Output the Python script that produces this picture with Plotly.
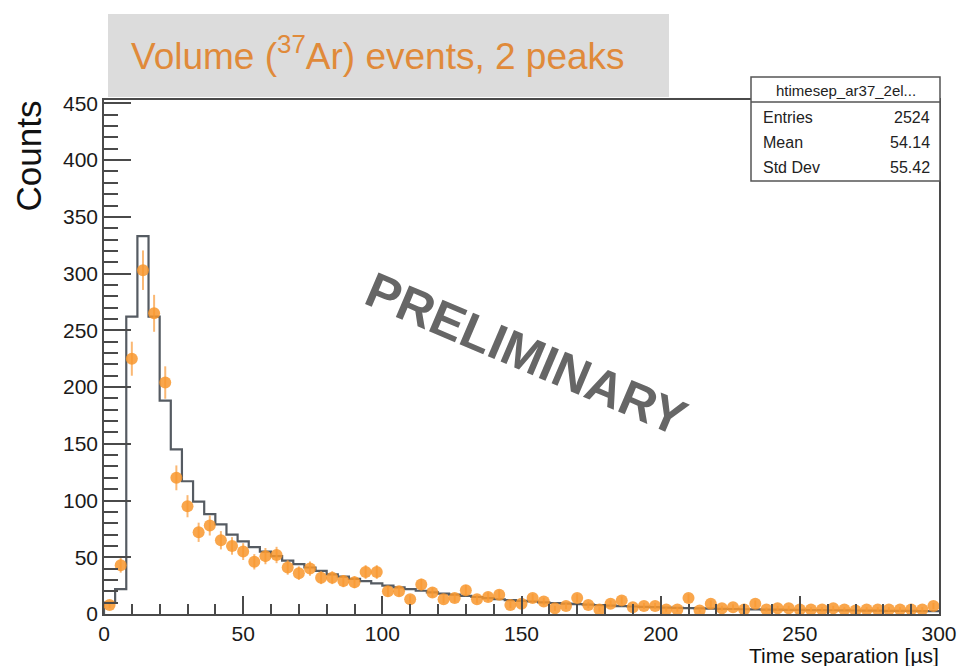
import numpy as np
import plotly.graph_objects as go

# ---------------- data ----------------
bin_width = 4  # µs
# measured counts per 4-µs bin (bin centres 2, 6, ..., 298)
data_counts = [8, 43, 225, 303, 265, 204, 120, 95, 72, 78,
               65, 60, 55, 46, 51, 52, 41, 36, 40, 32,
               32, 29, 28, 37, 37, 20, 20, 13, 26, 19,
               13, 14, 21, 13, 15, 17, 8, 9, 14, 11,
               5, 7, 14, 8, 4, 9, 12, 6, 7, 7,
               4, 4, 14, 3, 9, 5, 6, 4, 9, 4,
               5, 5, 4, 4, 4, 5, 4, 3, 4, 4,
               4, 4, 4, 4, 7]
# reference (simulated) histogram per bin
mc_counts = [10, 22, 262, 333, 262, 188, 145, 117, 99, 88,
             79, 70, 64, 59, 55, 51, 47, 44, 41, 38,
             35, 33, 31, 29, 27, 25, 23.5, 22, 20.5, 19,
             18, 17, 16, 15, 14, 13, 12.3, 11.6, 11, 10.3,
             9.7, 9.2, 8.7, 8.2, 7.8, 7.4, 7, 6.6, 6.3, 6,
             5.7, 5.4, 5.2, 5, 4.8, 4.6, 4.4, 4.2, 4.0, 3.9,
             3.8, 3.7, 3.6, 3.5, 3.4, 3.3, 3.2, 3.1, 3.0, 2.9,
             2.8, 2.8, 2.7, 2.6, 2.6]
x_ticks = [0, 50, 100, 150, 200, 250, 300]
y_ticks = [0, 50, 100, 150, 200, 250, 300, 350, 400, 450]
stats_title = "htimesep_ar37_2el..."
stats_labels = ["Entries", "Mean", "Std Dev"]
stats_values = ["2524", "54.14", "55.42"]

n_bins = len(data_counts)
edges = np.arange(n_bins + 1) * bin_width
centres = edges[:-1] + bin_width / 2

# ---------------- geometry helpers (pixel -> paper) ----------------
W, H = 960, 666
L, R, T, B = 104, 939, 100, 614


def px(xp):
    return (xp - L) / (R - L)


def py(yp):
    return (B - yp) / (B - T)


FONT = "Liberation Sans, Arial, Helvetica, sans-serif"
ORANGE = "rgba(248,150,45,0.85)"
FRAME = "#4a4a4a"

fig = go.Figure()

# step histogram (reference)
hx = [0] + list(edges)
hy = [0] + list(mc_counts) + [mc_counts[-1]]
fig.add_trace(go.Scatter(x=hx, y=hy, mode="lines", line_shape="hv",
                         line=dict(color="#555b62", width=2.2),
                         hoverinfo="skip", showlegend=False))

# data points with Poisson error bars
fig.add_trace(go.Scatter(x=centres, y=data_counts, mode="markers",
                         marker=dict(color=ORANGE, size=12, line=dict(width=0)),
                         error_y=dict(type="sqrt", color="rgba(248,160,70,0.75)",
                                      thickness=2, width=0),
                         showlegend=False))

axis_common = dict(showgrid=False, zeroline=False, showline=True, mirror=True,
                   automargin=False,
                   linecolor=FRAME, linewidth=1.6, ticks="inside",
                   tickcolor=FRAME, tickwidth=1.5,
                   tickfont=dict(family=FONT, size=21, color="#1a1a1a"))

fig.update_xaxes(range=[0, 300], tickvals=x_ticks, ticklen=18,
                 minor=dict(dtick=10, tick0=0, ticklen=10, ticks="inside",
                            tickcolor=FRAME, tickwidth=1.5, showgrid=False),
                 **axis_common)
fig.update_yaxes(range=[0, 453], tickvals=y_ticks, ticklen=27,
                 minor=dict(dtick=10, tick0=0, ticklen=14, ticks="inside",
                            tickcolor=FRAME, tickwidth=1.5, showgrid=False),
                 **axis_common)

shapes = []
# title box
shapes.append(dict(type="rect", xref="paper", yref="paper",
                   x0=px(108), x1=px(669), y0=py(97), y1=py(14),
                   fillcolor="#dcdcdc", line=dict(width=0), layer="below"))
# stats box
shapes.append(dict(type="rect", xref="paper", yref="paper",
                   x0=px(751), x1=px(940), y0=py(181), y1=py(77),
                   fillcolor="white", line=dict(color="#555", width=1.5), layer="above"))
shapes.append(dict(type="line", xref="paper", yref="paper",
                   x0=px(751), x1=px(940), y0=py(102), y1=py(102),
                   line=dict(color="#555", width=1.5), layer="above"))

annotations = []
annotations.append(dict(xref="paper", yref="paper", x=px(129), y=py(53),
                        xanchor="left", yanchor="middle", showarrow=False,
                        text="Volume (<sup>37</sup>Ar) events, 2 peaks",
                        font=dict(family=FONT, size=37, color="#e08a3a")))
annotations.append(dict(xref="paper", yref="paper", x=px(846), y=py(90),
                        xanchor="center", yanchor="middle", showarrow=False,
                        text=stats_title,
                        font=dict(family=FONT, size=15, color="#222")))
for i, (lab, val) in enumerate(zip(stats_labels, stats_values)):
    yy = py(117 + 25 * i)
    annotations.append(dict(xref="paper", yref="paper", x=px(761), y=yy,
                            xanchor="left", yanchor="middle", showarrow=False,
                            text=lab, font=dict(family=FONT, size=16, color="#222")))
    annotations.append(dict(xref="paper", yref="paper", x=px(932), y=yy,
                            xanchor="right", yanchor="middle", showarrow=False,
                            text=val, font=dict(family=FONT, size=16, color="#222")))
annotations.append(dict(xref="paper", yref="paper", x=px(28), y=py(99),
                        xanchor="center", yanchor="top", showarrow=False,
                        textangle=-90, text="Counts",
                        font=dict(family=FONT, size=35, color="#111")))
annotations.append(dict(xref="paper", yref="paper", x=px(941), y=py(655),
                        xanchor="right", yanchor="middle", showarrow=False,
                        text="Time separation [µs]",
                        font=dict(family=FONT, size=21, color="#111")))
annotations.append(dict(xref="paper", yref="paper", x=px(526), y=py(354),
                        xanchor="center", yanchor="middle", showarrow=False,
                        textangle=23, text="<b>PRELIMINARY</b>",
                        font=dict(family=FONT, size=50, color="#666666")))

fig.update_layout(width=W, height=H,
                  margin=dict(l=L, r=W - R, t=T, b=H - B, autoexpand=False),
                  paper_bgcolor="white", plot_bgcolor="white",
                  shapes=shapes, annotations=annotations, showlegend=False)

fig.write_html("out.html")
